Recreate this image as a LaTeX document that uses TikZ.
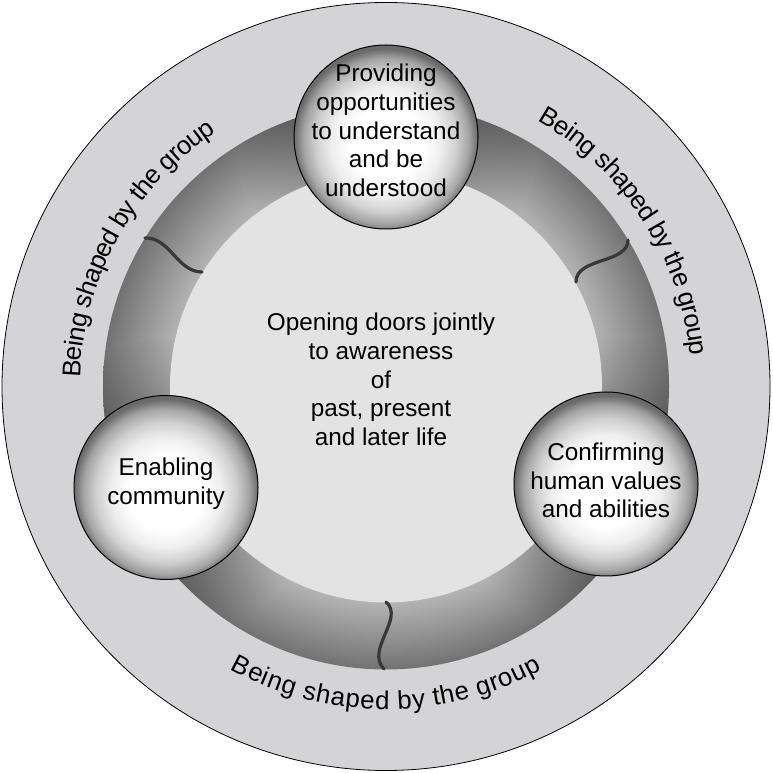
\documentclass[tikz,border=0pt]{standalone}
\usepackage{fontspec}
\setmainfont{Liberation Sans}
\usetikzlibrary{decorations.text,fadings}
\definecolor{bandcol}{HTML}{D4D4D6}
\definecolor{diskcol}{HTML}{E3E3E3}
\definecolor{ringin}{HTML}{B4B4B4}
\definecolor{ringmid}{HTML}{939393}
\definecolor{ringout}{HTML}{727272}
\definecolor{sepcol}{HTML}{383838}
\definecolor{sphA}{HTML}{EEEEEE}
\definecolor{sphB}{HTML}{D0D0D0}
\definecolor{sphC}{HTML}{A4A4A4}
\definecolor{sphD}{HTML}{6A6A6A}
\pgfdeclareradialshading{ringsh}{\pgfpointorigin}{color(0bp)=(ringin); color(19bp)=(ringin); color(22bp)=(ringmid); color(25bp)=(ringout); color(50bp)=(ringout)}
\pgfdeclareradialshading{spheresh}{\pgfpoint{0bp}{-2bp}}{color(0bp)=(white); color(10bp)=(white); color(15bp)=(sphA); color(19bp)=(sphB); color(22.5bp)=(sphC); color(25bp)=(sphD); color(50bp)=(sphD)}
\tikzfading[name=halo, inner color=transparent!0, outer color=transparent!100]
\newcommand\labfont{\fontsize{24.3}{28.8}\selectfont}
\newcommand\bandfont{\fontsize{25.8}{30}\selectfont}
\begin{document}
\begin{tikzpicture}[x=1pt,y=1pt,
  sphere/.style={circle, draw=black, line width=1pt, minimum size=184pt, inner sep=0pt, shading=spheresh},
  lab/.style={align=center, font=\labfont, text=black, inner sep=0pt},
  sepline/.style={draw=sepcol, line width=3.2pt, line cap=round},
  shadow/.style={fill=black, fill opacity=0.45, path fading=halo},
  bandtext/.style={decorate, decoration={text along path, text align=center, raise=#1, text={|\bandfont|Being shaped by the group}}}]
\useasboundingbox (0,0) rectangle (772,773);
\fill[white] (0,0) rectangle (772,773);
\coordinate (C) at (386,386.5);
% outer band
\draw[fill=bandcol, line width=0.8pt] (C) circle[radius=384];
% ring
\shade[shading=ringsh] (C) circle[radius=283];
% soft shadows of the spheres on the ring
\begin{scope}
\clip (C) circle[radius=283];
\path[shadow] (386,636) circle[radius=150];
\path[shadow] (166,285.5) circle[radius=150];
\path[shadow] (606,289) circle[radius=150];
\end{scope}
% inner disk
\fill[diskcol] (C) circle[radius=216];
% separators
\coordinate (s1a) at (145,535);
\coordinate (s1b) at (202,501);
\draw[sepline] (s1a) .. controls (170,536) and (177,501) .. (s1b);
\coordinate (s2a) at (628,533);
\coordinate (s2b) at (576,491);
\draw[sepline] (s2a) .. controls (628,509) and (576,516) .. (s2b);
\coordinate (s3a) at (386,171);
\coordinate (s3b) at (384,104);
\draw[sepline] (s3a) .. controls (405,155) and (365,123) .. (s3b);
% curved texts
\path[bandtext=-19pt] (C) ++(201:325) arc[start angle=201, end angle=101, radius=325];
\path[bandtext=-19pt] (C) ++(83:325) arc[start angle=83, end angle=-17, radius=325];
\path[bandtext=-18pt] (C) ++(225:305) arc[start angle=225, end angle=315, radius=305];
% spheres
\node[sphere] (top) at (386,636) {};
\node[sphere] (left) at (166,285.5) {};
\node[sphere] (right) at (606,289) {};
\node[lab] (toptext) at (386,642.5) {Providing\\opportunities\\to understand\\and be\\understood};
\node[lab] (lefttext) at (166,289) {Enabling\\community};
\node[lab] (righttext) at (606,292.5) {Confirming\\human values\\and abilities};
\node[lab] (mid) at (381,393.5) {Opening doors jointly\\to awareness\\of\\past, present\\and later life};
\end{tikzpicture}
\end{document}
